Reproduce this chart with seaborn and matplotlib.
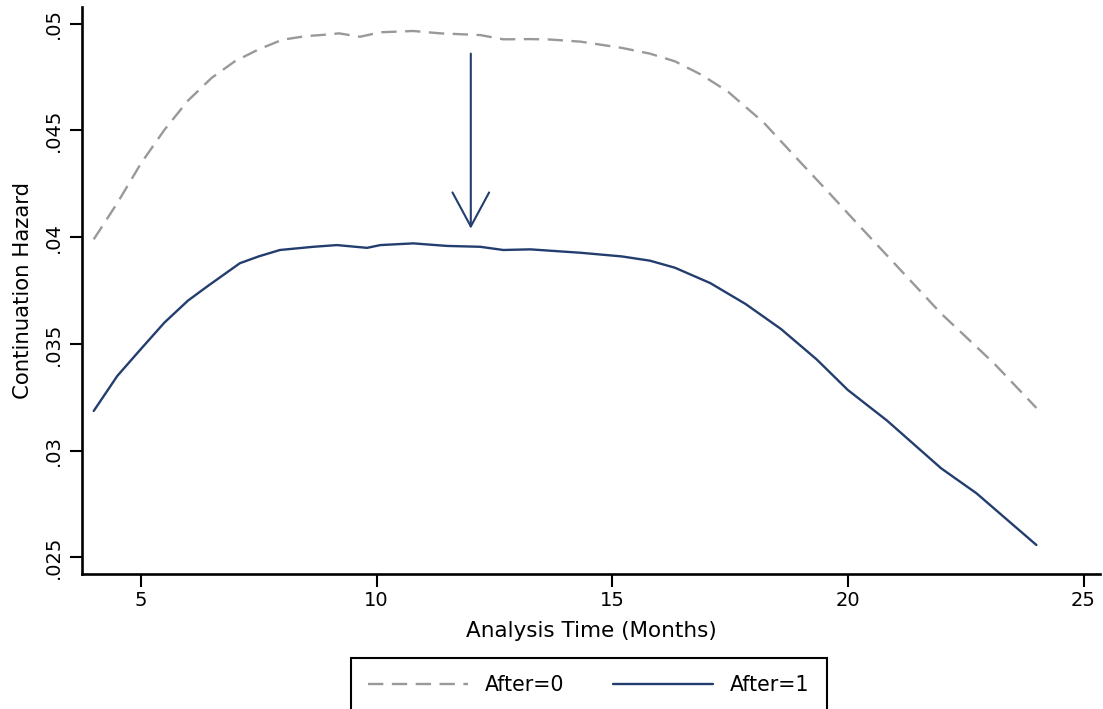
import matplotlib
matplotlib.use("Agg")
import matplotlib.pyplot as plt
import seaborn as sns

# Continuation hazard, After=0 (dashed grey)
months_0 = [4.0, 4.5, 5.0, 5.5, 6.0, 6.5, 7.0, 7.5, 8.0, 8.5, 9.0, 9.2, 9.65,
            10.08, 10.78, 11.35, 12.2, 12.69, 13.26, 13.69, 14.33, 15.2,
            15.8, 16.33, 16.9, 17.46, 18.21, 18.96, 19.57, 20.09, 21.22,
            21.98, 23.1, 24.0]
hazard_0 = [0.0399, 0.0416, 0.04345, 0.04503, 0.0464, 0.04746, 0.04825,
            0.0488, 0.04925, 0.04942, 0.0495, 0.04955, 0.04939, 0.0496,
            0.04966, 0.04955, 0.04947, 0.04927, 0.04928, 0.04926, 0.04916,
            0.04887, 0.0486, 0.04824, 0.0476, 0.04681, 0.04538, 0.04359,
            0.04215, 0.0409, 0.03822, 0.03642, 0.03409, 0.0320]

# Continuation hazard, After=1 (solid navy)
months_1 = [4.0, 4.5, 4.98, 5.5, 6.0, 6.4, 7.1, 7.5, 7.95, 8.66, 9.16, 9.8,
            10.08, 10.78, 11.5, 12.2, 12.69, 13.26, 14.33, 15.2, 15.8, 16.33,
            17.08, 17.83, 18.58, 19.34, 20.0, 20.83, 21.98, 22.73, 23.48,
            24.0]
hazard_1 = [0.03186, 0.0335, 0.03471, 0.036, 0.03703, 0.03768, 0.03878,
            0.0391, 0.0394, 0.03955, 0.03963, 0.0395, 0.03963, 0.03971,
            0.03959, 0.03955, 0.0394, 0.03943, 0.03927, 0.0391, 0.0389,
            0.03857, 0.03785, 0.03687, 0.0357, 0.03427, 0.03284, 0.03141,
            0.02917, 0.028, 0.02657, 0.02558]

series_labels = ["After=0", "After=1"]

# arrow marking month 12
arrow_x = 12
arrow_from = 0.0486
arrow_to = 0.0404

x_ticks = [5, 10, 15, 20, 25]
y_ticks = [0.025, 0.03, 0.035, 0.04, 0.045, 0.05]
y_tick_labels = [".025", ".03", ".035", ".04", ".045", ".05"]

GREY = "#999999"
NAVY = "#233e6e"

sns.set_style("ticks")
plt.rcParams['font.family'] = ['DejaVu Sans']
plt.rcParams['text.color'] = 'black'
plt.rcParams['axes.labelcolor'] = 'black'

fig = plt.figure(figsize=(11.03, 7.09), dpi=100)
ax = fig.add_axes([0.0743, 0.191, 0.923, 0.799])

sns.lineplot(x=months_0, y=hazard_0, ax=ax, color=GREY, linewidth=1.7,
             linestyle=(0, (6.5, 3.6)), label=series_labels[0])
sns.lineplot(x=months_1, y=hazard_1, ax=ax, color=NAVY, linewidth=1.7,
             label=series_labels[1])

ax.annotate("", xy=(arrow_x, arrow_to), xytext=(arrow_x, arrow_from),
            arrowprops=dict(arrowstyle="->,head_length=2.45,head_width=1.32",
                            mutation_scale=10, color=NAVY, lw=1.5,
                            shrinkA=0, shrinkB=0))

ax.set_xlim(3.75, 25.35)
ax.set_ylim(0.02424, 0.05078)
ax.set_xticks(x_ticks)
ax.set_yticks(y_ticks)
ax.set_yticklabels(y_tick_labels, rotation=90, va="center")

ax.tick_params(axis="both", direction="out", length=9, width=1.5,
               labelsize=14, color="black", labelcolor="black")
ax.tick_params(axis="x", pad=3.5)
ax.tick_params(axis="y", pad=4.5)

sns.despine(ax=ax)
for side in ["left", "bottom"]:
    ax.spines[side].set_linewidth(1.9)
    ax.spines[side].set_color("black")

ax.set_xlabel("Analysis Time (Months)", fontsize=15.5, labelpad=8)
ax.set_ylabel("Continuation Hazard", fontsize=15.3, labelpad=8)

handles, labels = ax.get_legend_handles_labels()
ax.get_legend().remove()
leg = fig.legend(handles, labels, loc="upper center",
                 bbox_to_anchor=(0.5336, 0.0719), ncol=2, frameon=True,
                 fancybox=False, edgecolor="black", handlelength=4.86,
                 handletextpad=0.83, columnspacing=2.38, borderpad=0.83,
                 borderaxespad=0, fontsize=14.8)
leg.get_frame().set_linewidth(1.5)
leg.get_frame().set_alpha(1)

fig.savefig("out.png", dpi=100)
